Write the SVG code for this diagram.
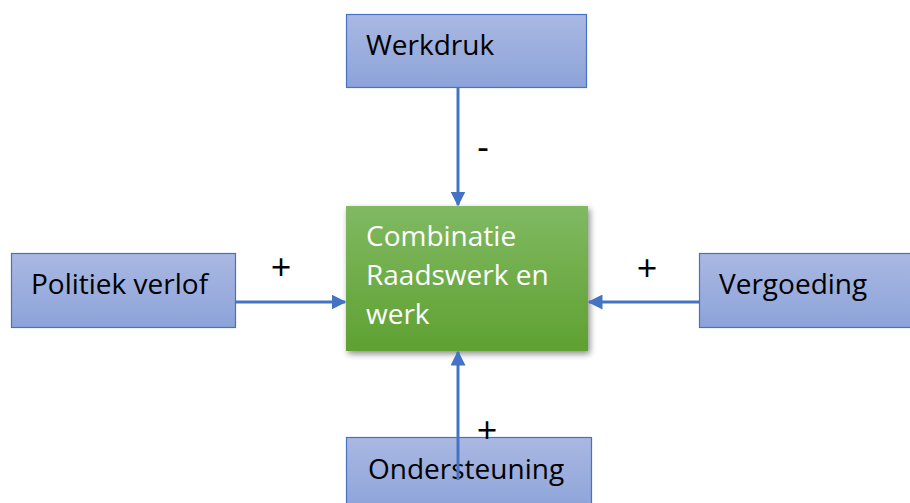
<svg xmlns="http://www.w3.org/2000/svg" width="910" height="503" viewBox="0 0 910 503">
<style>
.box{stroke:#4472c4;stroke-width:1.2;fill:url(#blue)}
.lbl{font-family:"Open Sans","Noto Sans",sans-serif;font-size:28px;fill:#000}
.wl{font-family:"Open Sans","Noto Sans",sans-serif;font-size:28px;fill:#fff}
.sign{font-family:"Open Sans","Noto Sans",sans-serif;font-size:36px;fill:#000}
.con{stroke:#4472c4;stroke-width:3;fill:none;marker-end:url(#ah)}
</style>
<defs>
<linearGradient id="blue" x1="0" y1="0" x2="0" y2="1">
<stop offset="0" stop-color="#aab8e2"/>
<stop offset="1" stop-color="#8ca3d9"/>
</linearGradient>
<linearGradient id="green" x1="0" y1="0" x2="0" y2="1">
<stop offset="0" stop-color="#80b962"/>
<stop offset="1" stop-color="#5fa131"/>
</linearGradient>
<filter id="sh" x="-10%" y="-10%" width="125%" height="130%">
<feGaussianBlur in="SourceAlpha" stdDeviation="3"/>
<feOffset dx="2" dy="3" result="b"/>
<feComponentTransfer><feFuncA type="linear" slope="0.45"/></feComponentTransfer>
<feMerge><feMergeNode/><feMergeNode in="SourceGraphic"/></feMerge>
</filter>
<marker id="ah" markerWidth="5" markerHeight="5" refX="4.5" refY="2.5" orient="auto" markerUnits="strokeWidth">
<path d="M0,0 L5,2.5 L0,5 Z" fill="#4472c4"/>
</marker>
</defs>
<g id="werkdruk">
<rect class="box" x="346.5" y="14.5" width="240" height="73"/>
<text class="lbl" x="366" y="55">Werkdruk</text>
</g>
<g id="politiek">
<rect class="box" x="11.5" y="253.5" width="224" height="74"/>
<text class="lbl" x="31" y="294">Politiek verlof</text>
</g>
<g id="vergoeding">
<rect class="box" x="699.5" y="253.5" width="215" height="74"/>
<text class="lbl" x="719" y="294">Vergoeding</text>
</g>
<g id="ondersteuning">
<rect class="box" x="346.5" y="437.5" width="245" height="74"/>
<text class="lbl" x="368" y="479">Ondersteuning</text>
</g>
<g id="combinatie">
<rect x="346" y="206" width="242" height="145" fill="url(#green)" filter="url(#sh)"/>
<text class="wl" x="366" y="246">Combinatie</text>
<text class="wl" x="366" y="285">Raadswerk en</text>
<text class="wl" x="366" y="324">werk</text>
</g>
<g id="connectors">
<line class="con" x1="458" y1="87" x2="458" y2="205"/>
<line class="con" x1="235" y1="302" x2="345" y2="302"/>
<line class="con" x1="699" y1="302" x2="589" y2="302"/>
<line class="con" x1="458" y1="480" x2="458" y2="352"/>
</g>
<g id="labels">
<text class="sign" x="483" y="160" text-anchor="middle">-</text>
<text class="sign" x="281" y="280" text-anchor="middle">+</text>
<text class="sign" x="647" y="281" text-anchor="middle">+</text>
<text class="sign" x="487" y="443" text-anchor="middle">+</text>
</g>
</svg>
